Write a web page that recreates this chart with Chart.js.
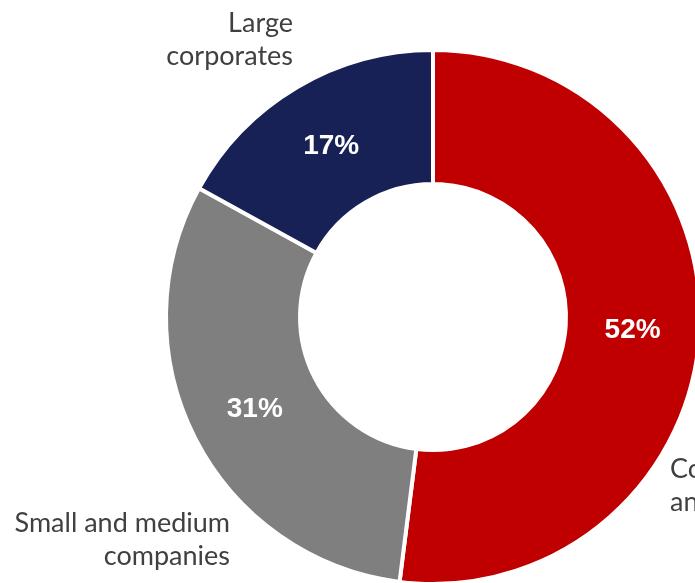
<!DOCTYPE html>
<html>
<head>
<meta charset="utf-8">
<script src="https://cdn.jsdelivr.net/npm/chart.js@4/dist/chart.umd.min.js"></script>
<style>
  html, body { margin: 0; padding: 0; background: #ffffff; }
  #frame { position: relative; width: 695px; height: 583px; overflow: hidden; }
  #chart { position: absolute; left: 0; top: 0; }
</style>
</head>
<body>
<div id="frame"><canvas id="chart" width="866" height="634"></canvas></div>
<script>
// Loan portfolio split by customer segment (share of total, %)
const segments = ['Consumers and households', 'Small and medium companies', 'Large corporates'];
const segmentLines = [['Consumers', 'and households'], ['Small and medium', 'companies'], ['Large', 'corporates']];
const shares = [52, 31, 17];
const segmentColors = ['#C00000', '#7F7F7F', '#172155'];

// Percentage labels inside each ring slice
const valueLabels = {
  id: 'valueLabels',
  afterDatasetsDraw(chart) {
    const ctx = chart.ctx;
    const meta = chart.getDatasetMeta(0);
    ctx.save();
    ctx.fillStyle = '#ffffff';
    ctx.font = 'bold 28px "Liberation Sans", Arial, sans-serif';
    ctx.textAlign = 'center';
    ctx.textBaseline = 'middle';
    meta.data.forEach((arc, i) => {
      const p = arc.tooltipPosition();
      ctx.fillText(shares[i] + '%', p.x, p.y + 1);
    });
    ctx.restore();
  }
};

// Category names placed around the ring, offsets measured from the ring centre
const categoryLabels = {
  id: 'categoryLabels',
  afterDatasetsDraw(chart, args, opts) {
    const ctx = chart.ctx;
    const arc = chart.getDatasetMeta(0).data[0];
    const cx = arc.x, cy = arc.y;
    ctx.save();
    ctx.fillStyle = '#404040';
    ctx.font = opts.font;
    ctx.textBaseline = 'alphabetic';
    opts.anchors.forEach((a, i) => {
      ctx.textAlign = a.align;
      segmentLines[i].forEach((line, j) => {
        ctx.fillText(line, cx + a.dx, cy + a.dy + j * opts.lineHeight);
      });
    });
    ctx.restore();
  }
};

new Chart(document.getElementById('chart'), {
  type: 'doughnut',
  data: {
    labels: segments,
    datasets: [{
      data: shares,
      backgroundColor: segmentColors,
      borderColor: '#ffffff',
      borderWidth: 4,
      hoverOffset: 0
    }]
  },
  options: {
    responsive: false,
    animation: false,
    events: [],
    radius: 267,
    cutout: '49.8%',
    rotation: 0,
    layout: { padding: 0 },
    plugins: {
      legend: { display: false },
      tooltip: { enabled: false },
      categoryLabels: {
        font: '27px Lato, "Open Sans", sans-serif',
        lineHeight: 33,
        anchors: [
          { dx: 237, dy: 161, align: 'left' },
          { dx: -203, dy: 215, align: 'right' },
          { dx: -140, dy: -285, align: 'right' }
        ]
      }
    }
  },
  plugins: [valueLabels, categoryLabels]
});
</script>
</body>
</html>
